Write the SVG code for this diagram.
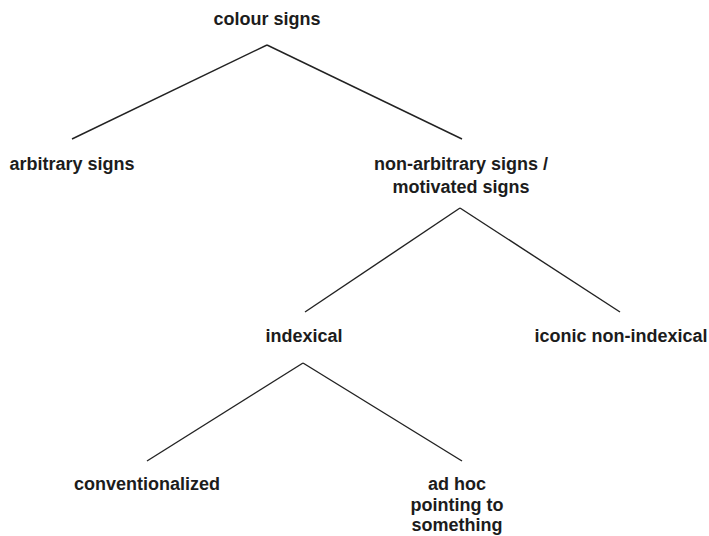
<svg xmlns="http://www.w3.org/2000/svg" width="709" height="536" viewBox="0 0 709 536">
<style>
text{font-family:"Liberation Sans",Arial,sans-serif;font-weight:bold;font-size:18px;fill:#1c1c1c;text-anchor:middle}
.c line{stroke:#222;stroke-width:1.4;fill:none}
</style>
<rect width="709" height="536" fill="#fff"/>
<g class="c" id="connectors">
<line x1="267" y1="45" x2="72" y2="139"/>
<line x1="267" y1="45" x2="462" y2="139"/>
<line x1="460" y1="208" x2="305" y2="312"/>
<line x1="460" y1="208" x2="620" y2="312"/>
<line x1="303" y1="363" x2="147" y2="461"/>
<line x1="303" y1="363" x2="462" y2="461"/>
</g>
<g id="colour-signs"><text x="267" y="25">colour signs</text></g>
<g id="arbitrary"><text x="72" y="170">arbitrary signs</text></g>
<g id="non-arbitrary"><text x="461" y="170">non-arbitrary signs /</text><text x="461" y="193">motivated signs</text></g>
<g id="indexical"><text x="304" y="342">indexical</text></g>
<g id="iconic"><text x="621" y="342">iconic non-indexical</text></g>
<g id="conventionalized"><text x="147" y="490">conventionalized</text></g>
<g id="adhoc"><text x="457" y="490">ad hoc</text><text x="457" y="511">pointing to</text><text x="457" y="531">something</text></g>
</svg>
